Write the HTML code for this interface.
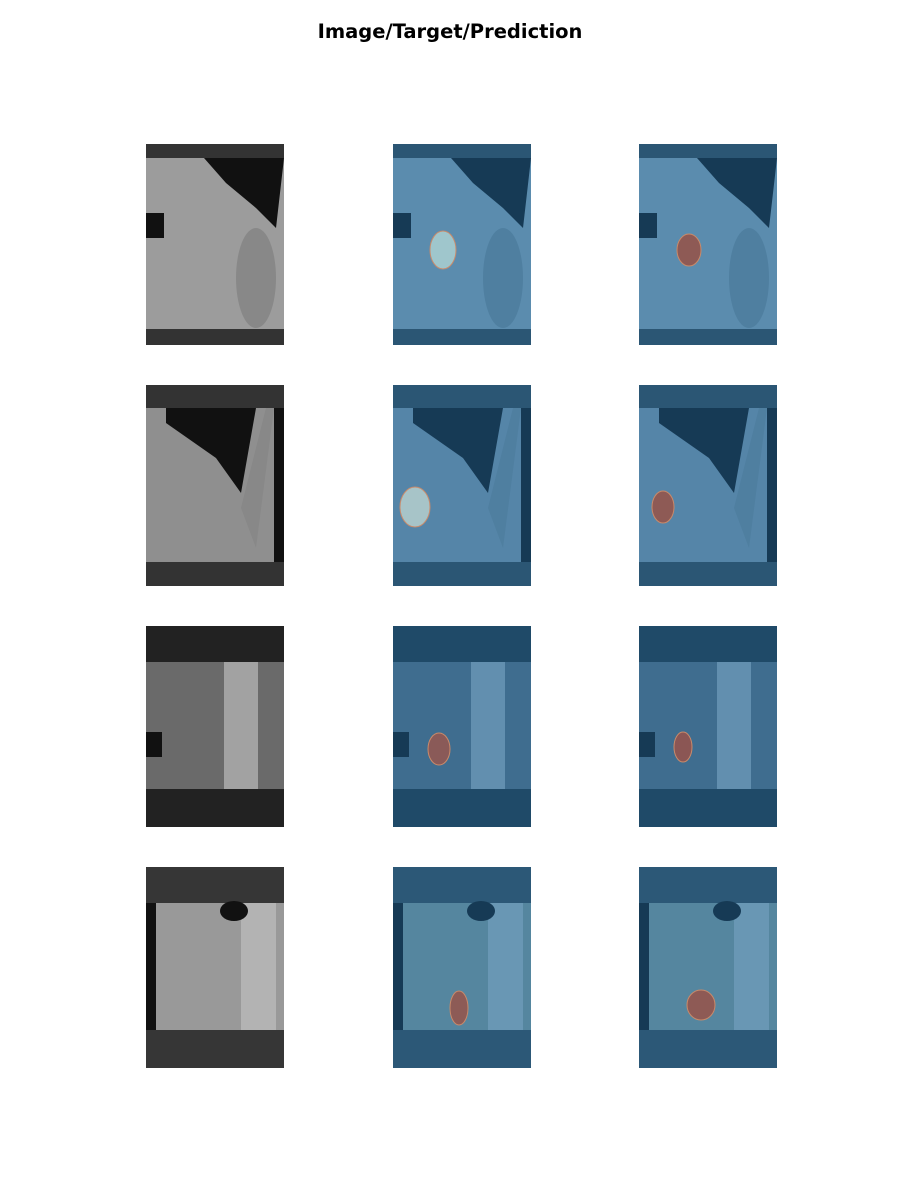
<!DOCTYPE html>
<html><head><meta charset="utf-8"><style>
body{margin:0;background:#fff;width:900px;height:1200px;position:relative;overflow:hidden;font-family:"DejaVu Sans","Liberation Sans",sans-serif}
#title{position:absolute;top:20px;left:0;width:900px;text-align:center;font-size:19.5px;font-weight:bold;color:#000;line-height:24px}
svg{position:absolute}
</style></head><body>
<div id="title">Image/Target/Prediction</div>
<div id="grid"></div>
<script>
const colX=[146,393,639];
const rowY=[144,385,626,867];
const bands=[[14,16],[23,24],[36,38],[36,38]];
const bandGray=['#333333','#333333','#222222','#363636'];
const bandBlue=['#2b5674','#2b5674','#1f4a68','#2c5877'];
const imgGray=['#9c9c9c','#8f8f8f','#6a6a6a','#999999'];
const imgBlue=['#5b8cae','#5585a8','#3f6d8f','#55869f'];
const target=[[50,106,13,19,'#9fc6cc'],[22,122,15,20,'#a7c4c8'],[46,123,11,16,'#8a5a58'],[66,141,9,17,'#8d5b56']];
const pred=[[50,106,12,16,'#8e5a55'],[24,122,11,16,'#8e5a55'],[44,121,9,15,'#8b5654'],[62,138,14,15,'#8e5a55']];
const ns='http://www.w3.org/2000/svg';
function mk(t,a,p){const e=document.createElementNS(ns,t);for(const k in a)e.setAttribute(k,a[k]);p.appendChild(e);return e;}
rowY.forEach((y,r)=>{colX.forEach((x,c)=>{
 const s=mk('svg',{width:138,height:201,style:`left:${x}px;top:${y}px`},document.body);
 
 
 const gray=c===0;
 const [tb,bb]=bands[r];
 mk('rect',{x:0,y:0,width:138,height:201,fill:gray?bandGray[r]:bandBlue[r]},s);
 mk('rect',{x:0,y:tb,width:138,height:201-tb-bb,fill:gray?imgGray[r]:imgBlue[r]},s);
 const dark=gray?'#111':'#163a55', light=gray?'#c8c8c8':'#7aa6c4', mid=gray?'#888':'#4f7fa0';
 const h=201-tb-bb;
 if(r===0){mk('path',{d:`M58 ${tb} L138 ${tb} L130 ${tb+70} L110 ${tb+50} L80 ${tb+25} Z`,fill:dark},s);
  mk('rect',{x:0,y:tb+55,width:18,height:25,fill:dark},s);
  mk('ellipse',{cx:110,cy:tb+120,rx:20,ry:50,fill:mid},s);}
 if(r===1){mk('path',{d:`M20 ${tb} L110 ${tb} L95 ${tb+85} L70 ${tb+50} L20 ${tb+15} Z`,fill:dark},s);
  mk('rect',{x:128,y:tb,width:10,height:h,fill:dark},s);
  mk('path',{d:`M95 ${tb+100} L120 ${tb} L128 ${tb} L110 ${tb+140} Z`,fill:mid},s);}
 if(r===2){mk('rect',{x:0,y:tb+70,width:16,height:25,fill:dark},s);
  mk('rect',{x:78,y:tb,width:34,height:h,fill:light,opacity:0.6},s);}
 if(r===3){mk('rect',{x:0,y:tb,width:10,height:h,fill:dark},s);
  mk('rect',{x:95,y:tb,width:35,height:h,fill:light,opacity:0.55},s);
  mk('ellipse',{cx:88,cy:tb+8,rx:14,ry:10,fill:dark},s);}
 if(c>0){const L=(c===1?target:pred)[r];
  const e=mk('ellipse',{cx:L[0],cy:L[1],rx:L[2],ry:L[3],fill:L[4],stroke:'#c98a6a','stroke-width':1},s);
  
  }
});});
</script>
</body></html>
